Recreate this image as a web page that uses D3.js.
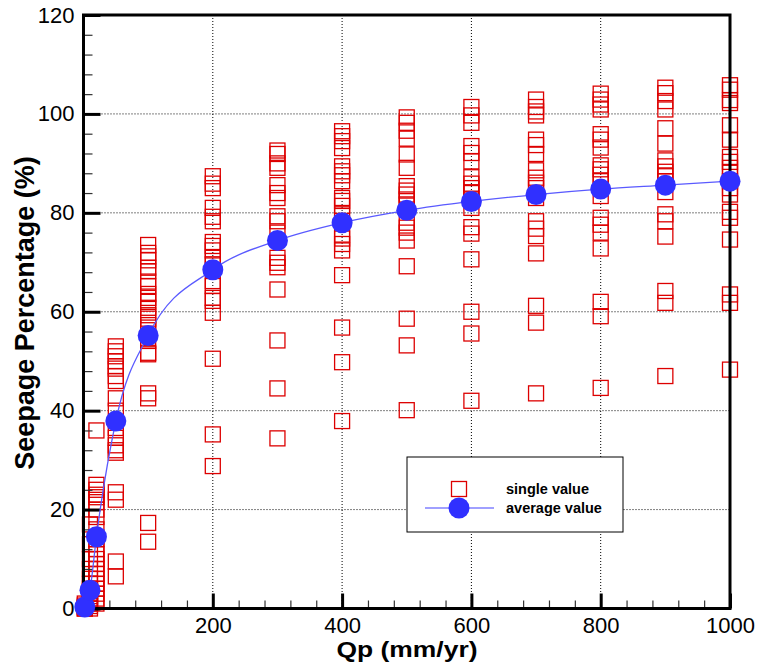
<!DOCTYPE html>
<html><head><meta charset="utf-8">
<script src="https://cdn.jsdelivr.net/npm/d3@7"></script>
<style>body{margin:0;background:#fff}svg{display:block}</style>
</head><body><svg id="c" width="757" height="669"></svg>
<script>
// ---- data ----
const qpValues = [2, 10, 20, 50, 100, 200, 300, 400, 500, 600, 700, 800, 900, 1000];
const averageValues = [0.3, 3.7, 14.5, 37.9, 55.2, 68.5, 74.4, 78.0, 80.5, 82.3, 83.7, 84.8, 85.6, 86.4];
const singleValues = [
  [0, 0, 0.3, 0.6, 1],
  [0, 0.5, 1, 1.5, 2, 2.5, 3, 3.5, 4, 5, 6, 8, 10, 13, 17],
  [36, 25, 24, 23, 22.5, 21.5, 20, 18.5, 16, 14, 12, 11, 10, 9, 8, 7, 6, 5, 4, 3, 2, 1],
  [53, 52, 51, 50, 49, 48.5, 47, 46, 42.5, 40, 36.5, 34.5, 33, 32, 31.5, 23.5, 22, 9.5, 6.5],
  [73.5, 71.9, 71.2, 70.4, 68.9, 68.2, 66.1, 65.2, 63.6, 62.8, 62, 60.8, 59.3, 58.6, 57.3, 56.8, 54.1, 51.7, 51.4, 43.5, 42.5, 17.3, 13.5],
  [87.4, 85.9, 85, 81, 79.2, 78.3, 74.1, 73.3, 72.4, 70.9, 69.6, 66.2, 65.2, 62.8, 62.2, 59.8, 50.5, 35.2, 28.8],
  [92.6, 91.9, 90, 89.1, 85.6, 84, 83, 79.3, 78.3, 76, 70.9, 69.9, 69, 64.5, 54.2, 44.5, 34.4],
  [96.5, 95.5, 94.5, 93.1, 89.4, 88.4, 87.6, 86.4, 83, 82.4, 81.4, 79.7, 75.6, 74.8, 73.7, 72.4, 67.4, 56.8, 49.8, 37.9],
  [99.3, 98.2, 96.6, 95, 91.8, 89.1, 85.4, 84.5, 83.7, 82.7, 81.7, 78, 77, 76, 74.4, 69.2, 58.6, 53.2, 40.1],
  [101.4, 99.7, 98.2, 93.5, 92.1, 90.4, 87.2, 85.9, 85, 84, 82.7, 81, 77.1, 75.8, 70.6, 60, 55.6, 42],
  [102.9, 101.4, 100.5, 99.7, 94.8, 93.7, 91.9, 88.6, 87.1, 86.1, 85, 83, 78.3, 76.8, 75.3, 71.8, 61.2, 57.8, 43.5],
  [104.1, 102.9, 101.9, 100.9, 95.9, 94.8, 93.2, 89.6, 88.8, 87.7, 86.4, 83.4, 79, 77.6, 76, 72.8, 62, 59.1, 44.6],
  [105.3, 104.2, 102.6, 100.9, 97.1, 94, 90.6, 89.4, 88.3, 87.4, 86.4, 84.2, 79.7, 78.3, 75.2, 64.2, 61.8, 47],
  [105.8, 104.9, 102.8, 102.2, 97.7, 94.8, 91.3, 90.3, 89.1, 88.1, 86.4, 85, 83.7, 80.2, 79, 74.6, 63.5, 61.8, 48.3]
];
const xTickValues = [200, 400, 600, 800, 1000];
const yTickValues = [0, 20, 40, 60, 80, 100, 120];
const xGridValues = [200, 400, 600, 800];
const yGridValues = [20, 40, 60, 80, 100];
const xTitle = "Qp (mm/yr)";
const yTitle = "Seepage Percentage (%)";
const legendLabels = ["single value", "average value"];

// ---- layout ----
const L = 83.5, R = 730, T = 15, B = 608.5;
const svg = d3.select("#c");
const x = d3.scaleLinear().domain([0, 1000]).range([L, R]);
const y = d3.scaleLinear().domain([0, 120]).range([B, T]);
const font = "'Liberation Sans', Arial, Helvetica, sans-serif";
const red = "#dd0000", blue = "#3030ff", lineBlue = "#5a5aff";

// grid
const grid = svg.append("g").attr("stroke", "#000").attr("stroke-width", 1).attr("stroke-dasharray", "1,2");
grid.selectAll("line.v").data(xGridValues).join("line")
  .attr("x1", d => x(d)).attr("x2", d => x(d)).attr("y1", T).attr("y2", B);
grid.selectAll("line.h").data(yGridValues).join("line")
  .attr("y1", d => y(d)).attr("y2", d => y(d)).attr("x1", L).attr("x2", R);

// single values (squares)
const pts = [];
qpValues.forEach((q, i) => singleValues[i].forEach(v => pts.push({q, v})));
const S = 15;
svg.append("g").selectAll("rect").data(pts).join("rect")
  .attr("x", d => x(d.q) - S / 2).attr("y", d => y(d.v) - S / 2)
  .attr("width", S).attr("height", S)
  .attr("fill", "none").attr("stroke", red).attr("stroke-width", 1.3);

// axes
const minorX = d3.range(0, 1001, 40).filter(d => d % 200 !== 0);
const minorY = d3.range(0, 121, 4).filter(d => d % 20 !== 0);
const ax = svg.append("g");
ax.append("g").attr("transform", `translate(0,${B})`)
  .call(d3.axisBottom(x).tickValues(minorX).tickSize(-8).tickFormat(""))
  .call(g => g.select(".domain").remove())
  .call(g => g.selectAll("line").attr("stroke", "#333").attr("stroke-width", 1.2));
ax.append("g").attr("transform", `translate(${L},0)`)
  .call(d3.axisLeft(y).tickValues(minorY).tickSize(-9).tickFormat(""))
  .call(g => g.select(".domain").remove())
  .call(g => g.selectAll("line").attr("stroke", "#333").attr("stroke-width", 1.2));
ax.append("g").attr("transform", `translate(0,${B})`)
  .call(d3.axisBottom(x).tickValues(xTickValues).tickSize(-15).tickPadding(9).tickFormat(d3.format("d")))
  .call(g => g.select(".domain").remove())
  .call(g => g.selectAll("line").attr("stroke", "#000").attr("stroke-width", 3))
  .call(g => g.selectAll("text").attr("font-family", font).attr("font-size", 22).attr("fill", "#000"));
ax.append("g").attr("transform", `translate(${L},0)`)
  .call(d3.axisLeft(y).tickValues(yTickValues).tickSize(-17).tickPadding(9).tickFormat(d3.format("d")))
  .call(g => g.select(".domain").remove())
  .call(g => g.selectAll("line").attr("stroke", "#000").attr("stroke-width", 3))
  .call(g => g.selectAll("text").attr("font-family", font).attr("font-size", 22).attr("fill", "#000"));
// frame
svg.append("rect").attr("x", L).attr("y", T).attr("width", R - L).attr("height", B - T)
  .attr("fill", "none").attr("stroke", "#000").attr("stroke-width", 3);

// average line + circles
const avg = qpValues.map((q, i) => ({q, v: averageValues[i]}));
svg.append("path").datum(avg)
  .attr("fill", "none").attr("stroke", lineBlue).attr("stroke-width", 1.3)
  .attr("d", d3.line().x(d => x(d.q)).y(d => y(d.v)).curve(d3.curveMonotoneX));
svg.append("g").selectAll("circle").data(avg).join("circle")
  .attr("cx", d => x(d.q)).attr("cy", d => y(d.v)).attr("r", 10.5).attr("fill", blue);

// titles
svg.append("text").attr("x", 407).attr("y", 657).attr("text-anchor", "middle")
  .attr("font-family", font).attr("font-weight", "bold").attr("font-size", 22)
  .attr("textLength", 141).attr("lengthAdjust", "spacingAndGlyphs").text(xTitle);
svg.append("text").attr("transform", "translate(34,313) rotate(-90)").attr("text-anchor", "middle")
  .attr("font-family", font).attr("font-weight", "bold").attr("font-size", 27).text(yTitle);

// legend
const lg = svg.append("g");
lg.append("rect").attr("x", 407).attr("y", 457).attr("width", 216).attr("height", 75)
  .attr("fill", "#fff").attr("stroke", "#000").attr("stroke-width", 1);
lg.append("rect").attr("x", 459 - S / 2).attr("y", 489 - S / 2).attr("width", S).attr("height", S)
  .attr("fill", "none").attr("stroke", red).attr("stroke-width", 1.3);
lg.append("line").attr("x1", 425).attr("x2", 494).attr("y1", 508).attr("y2", 508)
  .attr("stroke", "#8080ff").attr("stroke-width", 1.4);
lg.append("circle").attr("cx", 459).attr("cy", 508).attr("r", 10.5).attr("fill", blue);
lg.selectAll("text.l").data(legendLabels).join("text")
  .attr("x", 506).attr("y", (d, i) => 494 + i * 19)
  .attr("font-family", font).attr("font-weight", "bold").attr("font-size", 14.5).text(d => d);
</script></body></html>
